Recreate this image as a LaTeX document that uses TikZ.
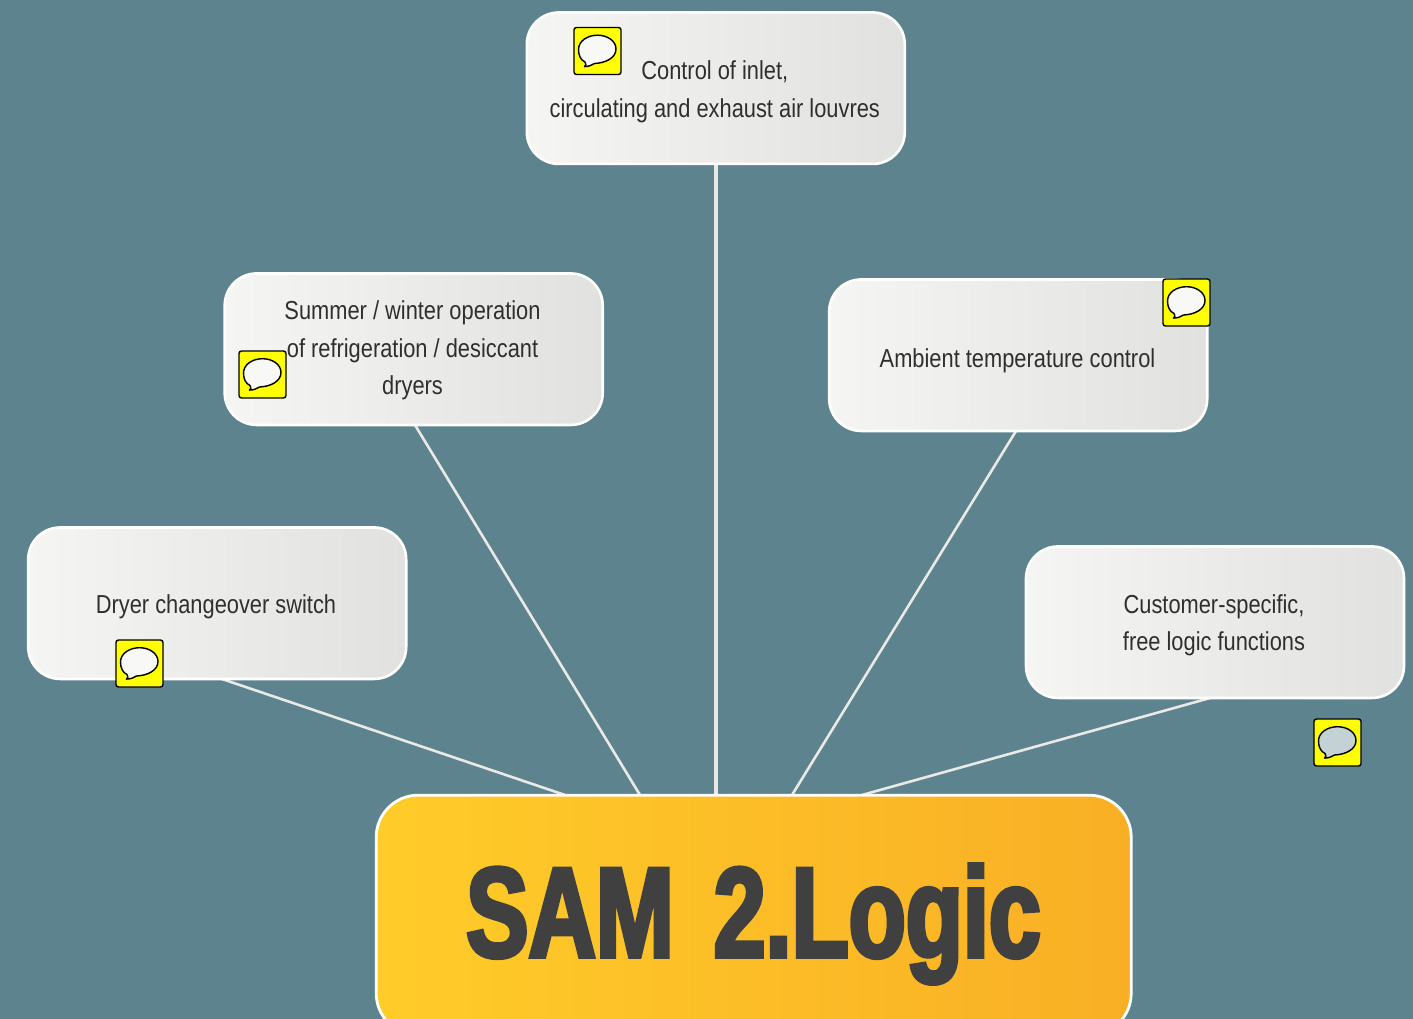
\documentclass[tikz,border=0pt]{standalone}
\usepackage{fontspec}
\setmainfont{Liberation Sans}
\newfontfamily\boxfont[FakeStretch=0.84]{Liberation Sans}
\newfontfamily\titlefont[FakeStretch=0.73,FakeBold=3.2]{Liberation Sans Bold}
\definecolor{bgteal}{HTML}{5D838F}
\definecolor{linewhite}{HTML}{E9E9E6}
\definecolor{txtdark}{HTML}{2F2F2D}
\definecolor{titledark}{HTML}{404041}
\definecolor{boxl}{HTML}{F5F5F3}
\definecolor{boxr}{HTML}{E1E1DF}
\definecolor{mainl}{HTML}{FFCC29}
\definecolor{mainr}{HTML}{F9AF25}
\definecolor{iconyellow}{HTML}{FFFF00}
\definecolor{bubblew}{HTML}{F8F8F6}
\definecolor{bubbleg}{HTML}{C4D2D6}
\tikzset{
  infobox/.style={draw=white,line width=2.6pt,rounded corners=32pt,left color=boxl,right color=boxr,shading angle=90,
    minimum width=378pt,minimum height=151.5pt,inner sep=0pt},
  boxtext/.style={align=center,text=txtdark,inner sep=0pt,
    font=\boxfont\fontsize{26}{37.5}\selectfont},
  mainbox/.style={draw=white,line width=2.8pt,rounded corners=42pt,left color=mainl,right color=mainr,shading angle=90,
    minimum width=755pt,minimum height=240pt,inner sep=0pt},
  titletext/.style={text=titledark,font=\titlefont\fontsize{128}{128}\selectfont,inner sep=0pt},
  link/.style={draw=linewhite,line width=2.6pt},
  mainlink/.style={draw=linewhite,line width=3.2pt},
  iconbox/.style={draw=black,line width=1.4pt,fill=iconyellow,rounded corners=2.5pt,minimum size=47pt,inner sep=0pt},
  bubbleline/.style={draw=black,line width=1.4pt,line join=round}
}
\newcommand{\bubbleicon}[4]{%
  \node[iconbox] (#1) at (#2,#3) {};
  \path[bubbleline,fill=#4,shift={(#1.center)}]
    (-12.5,11) .. controls (-17,9) and (-19,4) .. (-19,-1.5)
    .. controls (-19,-10) and (-10,-15.8) .. (0,-15.8)
    .. controls (10,-15.8) and (18.5,-10) .. (18.5,-2)
    .. controls (18.5,7) and (8,12) .. (-3,12.5)
    .. controls (-6,14.5) and (-9,15.5) .. (-13,15.6)
    .. controls (-11.5,14.5) and (-11,13) .. (-12.5,11) -- cycle;
}
\begin{document}
\begin{tikzpicture}[x=1pt,y=-1pt]
\useasboundingbox (0,0) rectangle (1413,1019);
\fill[bgteal] (0,0) rectangle (1413,1019);
\clip (0,0) rectangle (1413,1019);
\coordinate (dryS) at (222,679);
\coordinate (sumS) at (415,425);
\coordinate (ctlS) at (716,164);
\coordinate (ambS) at (1016,431);
\coordinate (cusS) at (1210,698);
\coordinate (mDry) at (565,795);
\coordinate (mSum) at (640,795);
\coordinate (mCtl) at (716,795);
\coordinate (mAmb) at (792,795);
\coordinate (mCus) at (862,795);
\draw[link] (dryS) -- (mDry);
\draw[link] (sumS) -- (mSum);
\draw[mainlink] (ctlS) -- (mCtl);
\draw[link] (ambS) -- (mAmb);
\draw[link] (cusS) -- (mCus);
\node[infobox] (ctl) at (715.8,88.2) {};
\node[infobox] (sum) at (413.7,349.2) {};
\node[infobox] (amb) at (1018.2,355.2) {};
\node[infobox] (dry) at (217.2,603.2) {};
\node[infobox] (cus) at (1215,622.2) {};
\node[boxtext] (ctlT) at (714.8,92) {Control of inlet,\\circulating and exhaust air louvres};
\node[boxtext] (sumT) at (412.5,350.5) {Summer / winter operation\\of refrigeration / desiccant\\dryers};
\node[boxtext] (ambT) at (1017.5,360.5) {Ambient temperature control};
\node[boxtext] (dryT) at (216,607) {Dryer changeover switch};
\node[boxtext] (cusT) at (1214,625.5) {Customer-specific,\\free logic functions};
\node[mainbox] (main) at (753.7,915.2) {};
\node[titletext] (title) at (753.5,924) {SAM\hspace{14pt} 2.Logic};
\bubbleicon{iconA}{597.5}{51}{bubblew}
\bubbleicon{iconB}{1186.5}{302.5}{bubblew}
\bubbleicon{iconC}{262.5}{374.5}{bubblew}
\bubbleicon{iconD}{139.5}{663.5}{bubblew}
\bubbleicon{iconE}{1337.5}{742.5}{bubbleg}
\end{tikzpicture}
\end{document}
